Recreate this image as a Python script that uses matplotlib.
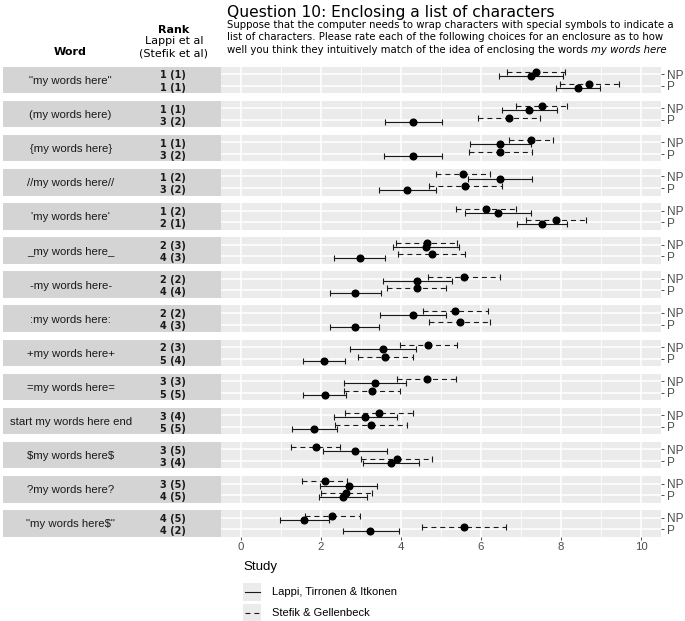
import matplotlib
matplotlib.use("Agg")
import matplotlib.pyplot as plt
from matplotlib.patches import Rectangle
import numpy as np

# rows of the chart, top to bottom
words = ['"my words here"', '(my words here)', '{my words here}', '//my words here//',
         "'my words here'", '_my words here_', '-my words here-', ':my words here:',
         '+my words here+', '=my words here=', 'start my words here end',
         '$my words here$', '?my words here?', '"my words here$"']
rank_np = ['1 (1)', '1 (1)', '1 (1)', '1 (2)', '1 (2)', '2 (3)', '2 (2)',
           '2 (2)', '2 (3)', '3 (3)', '3 (4)', '3 (5)', '3 (5)', '4 (5)']
rank_p = ['1 (1)', '3 (2)', '3 (2)', '3 (2)', '2 (1)', '4 (3)', '4 (4)',
          '4 (3)', '5 (4)', '5 (5)', '5 (5)', '3 (4)', '4 (5)', '4 (2)']
conditions = ['NP', 'P']
x_ticks = [0, 2, 4, 6, 8, 10]

# Lappi, Tirronen & Itkonen
lappi_np_mean = [7.26, 7.20, 6.48, 6.48, 6.42, 4.63, 4.41, 4.29, 3.55, 3.34, 3.11, 2.85, 2.69, 1.58]
lappi_np_lo = [6.46, 6.52, 5.73, 5.68, 5.60, 3.81, 3.54, 3.47, 2.73, 2.57, 2.33, 2.06, 1.98, 0.98]
lappi_np_hi = [8.06, 7.89, 7.24, 7.28, 7.24, 5.44, 5.27, 5.13, 4.37, 4.12, 3.90, 3.65, 3.41, 2.19]
lappi_p_mean = [8.43, 4.31, 4.29, 4.16, 7.53, 2.97, 2.86, 2.84, 2.07, 2.09, 1.83, 3.75, 2.54, 3.23]
lappi_p_lo = [7.88, 3.59, 3.57, 3.44, 6.90, 2.33, 2.22, 2.23, 1.55, 1.56, 1.27, 3.06, 1.95, 2.55]
lappi_p_hi = [8.98, 5.02, 5.02, 4.87, 8.16, 3.60, 3.51, 3.46, 2.59, 2.62, 2.39, 4.45, 3.14, 3.95]

# Stefik & Gellenbeck
stefik_np_mean = [7.38, 7.52, 7.24, 5.55, 6.12, 4.64, 5.58, 5.36, 4.68, 4.64, 3.45, 1.87, 2.09, 2.28]
stefik_np_lo = [6.64, 6.88, 6.69, 4.88, 5.37, 3.88, 4.68, 4.55, 3.97, 3.90, 2.61, 1.26, 1.53, 1.59]
stefik_np_hi = [8.10, 8.15, 7.80, 6.23, 6.87, 5.40, 6.48, 6.17, 5.40, 5.38, 4.30, 2.47, 2.66, 2.98]
stefik_p_mean = [8.71, 6.70, 6.48, 5.61, 7.87, 4.77, 4.39, 5.47, 3.61, 3.27, 3.25, 3.89, 2.62, 5.58]
stefik_p_lo = [7.98, 5.93, 5.71, 4.70, 7.12, 3.93, 3.64, 4.71, 2.93, 2.58, 2.35, 3.00, 1.99, 4.53]
stefik_p_hi = [9.44, 7.48, 7.27, 6.52, 8.62, 5.61, 5.13, 6.23, 4.29, 3.97, 4.16, 4.78, 3.28, 6.63]

studies = ['Lappi, Tirronen & Itkonen', 'Stefik & Gellenbeck']

W, H = 685, 621
fig = plt.figure(figsize=(W / 100, H / 100), dpi=100)

gs = fig.add_gridspec(len(words), 2, left=3 / W, right=661 / W,
                      top=1 - 66.7 / H, bottom=1 - 536.7 / H,
                      width_ratios=[218, 440], wspace=0, hspace=7.6 / 26.6)

dash = (0, (4.5, 3.5))
series = [
    (stefik_np_mean, stefik_np_lo, stefik_np_hi, stefik_p_mean, stefik_p_lo, stefik_p_hi, dash, -0.18),
    (lappi_np_mean, lappi_np_lo, lappi_np_hi, lappi_p_mean, lappi_p_lo, lappi_p_hi, 'solid', 0.18),
]

for i, word in enumerate(words):
    # strip on the left with word and rank
    ax_lab = fig.add_subplot(gs[i, 0])
    ax_lab.set_facecolor('#D4D4D4')
    ax_lab.set_xticks([])
    ax_lab.set_yticks([])
    for s in ax_lab.spines.values():
        s.set_visible(False)
    ax_lab.text(0.31, 0.46, word, ha='center', va='center', fontsize=8.2,
                family='Liberation Sans', color='#1A1A1A', parse_math=False)
    ax_lab.text(0.78, 0.67, rank_np[i], ha='center', va='center', fontsize=7,
                family='DejaVu Sans', weight='bold', color='#1A1A1A')
    ax_lab.text(0.78, 0.21, rank_p[i], ha='center', va='center', fontsize=7,
                family='DejaVu Sans', weight='bold', color='#1A1A1A')

    # data panel
    ax = fig.add_subplot(gs[i, 1])
    ax.set_facecolor('#EBEBEB')
    for s in ax.spines.values():
        s.set_visible(False)
    ax.set_xlim(-0.5, 10.5)
    ax.set_ylim(1.64, -0.64)
    ax.set_xticks(x_ticks)
    ax.set_xticks([1, 3, 5, 7, 9], minor=True)
    ax.set_yticks(range(len(conditions)))
    ax.set_yticklabels(conditions)
    ax.yaxis.tick_right()
    ax.grid(True, which='major', color='white', linewidth=1.1)
    ax.grid(True, which='minor', axis='x', color='white', linewidth=0.55)
    ax.set_axisbelow(True)
    ax.tick_params(axis='y', which='both', length=2.5, width=0.6, color='#333333',
                   labelsize=8.5, labelcolor='#4D4D4D', pad=1.5)
    ax.tick_params(axis='x', which='minor', length=0)
    for lab in ax.get_yticklabels():
        lab.set_family('Liberation Sans')
    if i == len(words) - 1:
        ax.tick_params(axis='x', which='major', length=2.5, width=0.6, color='#333333',
                       labelsize=8.2, labelcolor='#4D4D4D', pad=1.5)
        for lab in ax.get_xticklabels():
            lab.set_family('Liberation Sans')
    else:
        ax.tick_params(axis='x', which='major', length=0, labelbottom=False)

    for np_m, np_lo, np_hi, p_m, p_lo, p_hi, ls, off in series:
        m = np.array([np_m[i], p_m[i]])
        lo = np.array([np_lo[i], p_lo[i]])
        hi = np.array([np_hi[i], p_hi[i]])
        y = np.arange(len(conditions)) + off
        eb = ax.errorbar(m, y, xerr=[m - lo, hi - m], fmt='o', ms=4.8,
                         mfc='black', mec='black', ecolor='#1A1A1A',
                         elinewidth=0.8, capsize=2.0, capthick=0.8, zorder=3)
        eb[2][0].set_linestyle(ls)

# overlay in pixel coordinates for header and legend
ov = fig.add_axes([0, 0, 1, 1], zorder=10)
ov.set_xlim(0, W)
ov.set_ylim(H, 0)
ov.axis('off')
ov.patch.set_alpha(0)

ov.text(227, 12, 'Question 10: Enclosing a list of characters', ha='left', va='center',
        fontsize=11.2, family='DejaVu Sans', color='black')
desc = ['Suppose that the computer needs to wrap characters with special symbols to indicate a',
        'list of characters. Please rate each of the following choices for an enclosure as to how',
        'well you think they intuitively match of the idea of enclosing the words ']
for k, line in enumerate(desc):
    t = ov.text(227, 25 + 12.5 * k, line, ha='left', va='center', fontsize=7.25,
                family='DejaVu Sans', color='black')
ov.annotate('my words here', xy=(1, 0.5), xycoords=t, ha='left', va='center',
            fontsize=7.25, family='DejaVu Sans', style='italic', color='black')

ov.text(70.5, 52, 'Word', ha='center', va='center', fontsize=8, family='DejaVu Sans',
        weight='bold')
ov.text(174, 30, 'Rank', ha='center', va='center', fontsize=8, family='DejaVu Sans',
        weight='bold')
ov.text(174, 41, 'Lappi et al', ha='center', va='center', fontsize=8, family='DejaVu Sans')
ov.text(174, 53, '(Stefik et al)', ha='center', va='center', fontsize=8, family='DejaVu Sans')

# legend
ov.text(243, 567, 'Study', ha='left', va='center', fontsize=9.5, family='Liberation Sans',
        color='black')
for k, (name, ls) in enumerate(zip(studies, ['solid', dash])):
    yc = 592 + 21 * k
    ov.add_patch(Rectangle((243, yc - 9), 18, 18, facecolor='#EBEBEB', edgecolor='none'))
    ov.plot([245, 260], [yc, yc], color='#1A1A1A', linewidth=0.8, linestyle=ls)
    ov.text(272, yc, name, ha='left', va='center', fontsize=8, family='Liberation Sans',
            color='black')

fig.savefig('out.png', dpi=100)
